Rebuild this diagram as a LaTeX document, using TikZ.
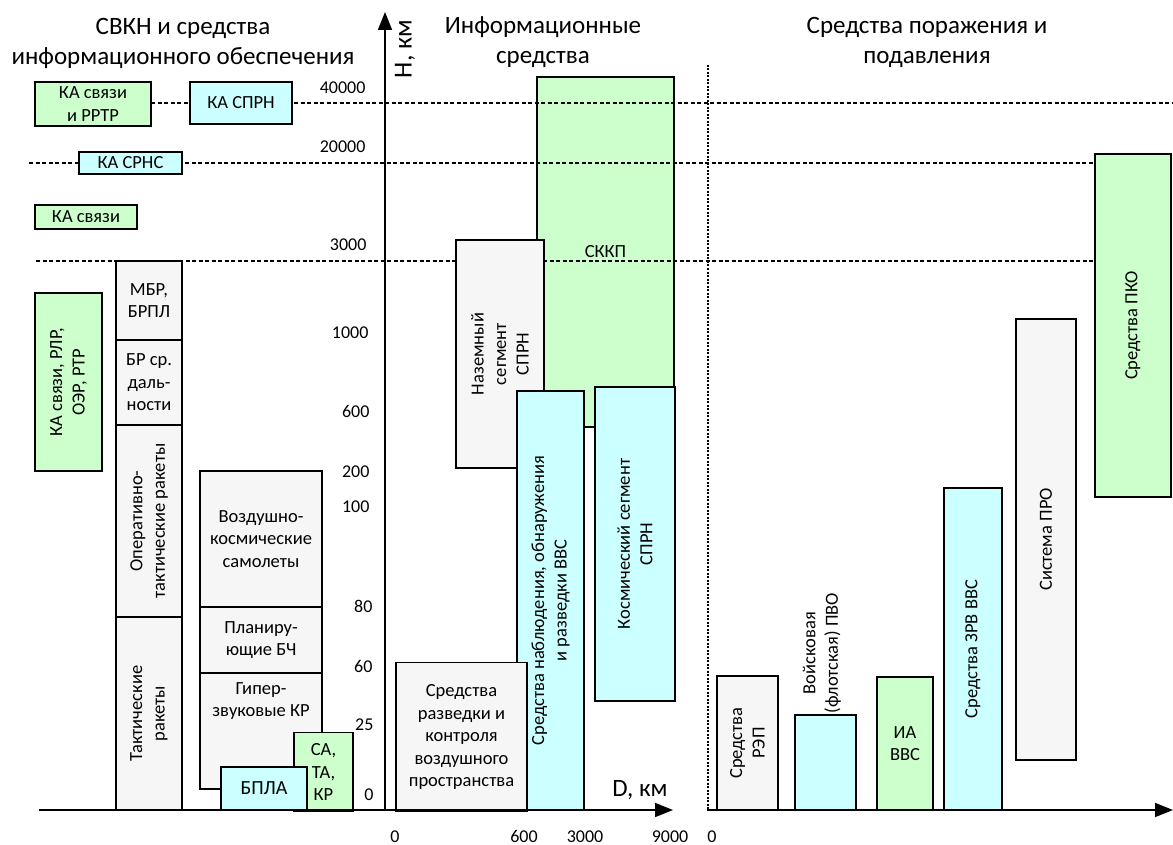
\documentclass[tikz,border=0pt]{standalone}
\usepackage{fontspec}
\setmainfont{Carlito}
\usetikzlibrary{arrows.meta}
\definecolor{cgreen}{RGB}{204,255,204}
\definecolor{ccyan}{RGB}{204,255,255}
\definecolor{cgray}{RGB}{245,246,245}
\begin{document}
\begin{tikzpicture}[x=1pt,y=-1pt,
 bx/.style={draw=black, line width=1.5pt, inner sep=0pt, align=center, font=\fontsize{18.5}{22.5}\selectfont},
 gbox/.style={bx, fill=cgreen},
 cbox/.style={bx, fill=ccyan},
 wbox/.style={bx, fill=cgray},
 sz/.style 2 args={minimum width=#1, minimum height=#2},
 txt/.style={align=center, font=\fontsize{18.5}{22.5}\selectfont},
 axis/.style={line width=1.6pt, -{Triangle[length=18pt,width=14pt]}},
 gridline/.style={line width=1.2pt, dash pattern=on 4pt off 2.5pt},
 sepline/.style={line width=1.5pt, dash pattern=on 2pt off 1.5pt},
 tick/.style={font=\fontsize{18}{20}\selectfont},
 xtick/.style={tick, anchor=base, inner sep=0pt},
 title/.style={align=center, font=\fontsize{25}{30}\selectfont}
]
\useasboundingbox (0,0) rectangle (1173,845);
% titles
\node[title] (t1) at (183,43) {СВКН и средства\\информационного обеспечения};
\node[title] (t2) at (543,42) {Информационные\\средства};
\node[title] (t3) at (927,42) {Средства поражения и\\подавления};
% SKKP under grid
\node[gbox, sz={137}{350}] (skkp) at (605.5,252) {СККП};
% grid lines
\coordinate (g1a) at (151,103); \coordinate (g1b) at (1173,103);
\coordinate (g2a) at (29,163);  \coordinate (g2b) at (1173,163);
\coordinate (g3a) at (36,261);  \coordinate (g3b) at (1173,261);
\coordinate (sa1) at (708,65);  \coordinate (sa2) at (708,810);
\draw[gridline] (g1a) -- (g1b);
\draw[gridline] (g2a) -- (g2b);
\draw[gridline] (g3a) -- (g3b);
\draw[sepline] (sa1) -- (sa2);
% left section
\node[gbox, sz={116}{44}] (kar) at (93,104) {КА связи\\и РРТР};
\node[cbox, sz={102}{42}] (kaspr) at (241,103) {КА СПРН};
\node[cbox, sz={103}{22}] (kasrns) at (130.5,163) {КА СРНС};
\node[gbox, sz={102}{24}] (kas) at (86,217) {КА связи};
\node[gbox, rotate=90, sz={178}{67}] (karlr) at (68.5,382) {КА связи, РЛР,\\ОЭР, РТР};
\node[wbox, sz={66}{79}] (mbr) at (149,300.5) {МБР,\\БРПЛ};
\node[wbox, sz={66}{85}] (brsd) at (149,382.5) {БР ср.\\даль-\\ности};
\node[wbox, rotate=90, sz={192}{66}] (otr) at (149,521) {Оперативно-\\тактические ракеты};
\node[wbox, rotate=90, sz={193}{66}] (tr) at (149,713.5) {Тактические\\ракеты};
\node[wbox, sz={122}{136}] (vks) at (261,539) {Воздушно-\\космические\\самолеты};
\node[wbox, sz={122}{66}] (pbch) at (261,640) {Планиру-\\ющие БЧ};
\node[wbox, sz={122}{116}] (gkr) at (261,731) {};
\node[txt] (gkrt) at (261,701) {Гипер-\\звуковые КР};
\node[gbox, sz={59}{79}] (sata) at (323.5,772) {СА,\\ТА,\\КР};
\node[cbox, sz={86}{43}, font=\fontsize{20}{22}\selectfont] (bpla) at (264,788.5) {БПЛА};
% information section
\node[wbox, rotate=90, sz={228}{88}] (nsspr) at (500,354) {Наземный\\сегмент\\СПРН};
\node[cbox, rotate=90, sz={419}{67}] (snor) at (550.5,600.5) {Средства наблюдения, обнаружения\\и разведки ВВС};
\node[cbox, rotate=90, sz={314}{80}] (ksspr) at (635,544) {Космический сегмент\\СПРН};
\node[wbox, sz={131}{149}] (srk) at (461.5,737) {Средства\\разведки и\\контроля\\воздушного\\пространства};
% right section
\node[wbox, rotate=90, sz={134}{61}] (rep) at (747.5,743) {Средства\\РЭП};
\node[cbox, sz={61}{95}] (pvo) at (825.5,762.5) {};
\node[txt, rotate=90] (pvot) at (822,653) {Войсковая\\(флотская) ПВО};
\node[gbox, sz={56}{133}] (ia) at (905,743.5) {ИА\\ВВС};
\node[cbox, rotate=90, sz={322}{58}] (zrv) at (973,649) {Средства ЗРВ ВВС};
\node[wbox, rotate=90, sz={441}{60}] (pro) at (1046,539.5) {Система ПРО};
\node[gbox, rotate=90, sz={343}{76}] (pko) at (1133,325.5) {Средства ПКО};
% axes
\coordinate (v0) at (385,810); \coordinate (v1) at (385,12);
\coordinate (h0) at (39,810);  \coordinate (h1) at (673,810);
\coordinate (k0) at (707,810); \coordinate (k1) at (1173,810);
\draw[axis] (v0) -- (v1);
\draw[axis] (h0) -- (h1);
\draw[axis] (k0) -- (k1);
\node[font=\fontsize{26}{28}\selectfont, rotate=90] (hkm) at (405,49) {Н, км};
\node[font=\fontsize{25}{28}\selectfont] (dkm) at (640,790) {D, км};
% tick labels vertical
\node[tick, anchor=east] (y40000) at (369,88) {40000};
\node[tick, anchor=east] (y20000) at (369,147) {20000};
\node[tick, anchor=east] (y3000) at (370,245) {3000};
\node[tick, anchor=east] (y1000) at (372,333) {1000};
\node[tick, anchor=east] (y600) at (373,411) {600};
\node[tick, anchor=east] (y200) at (373,472) {200};
\node[tick, anchor=east] (y100) at (373,507) {100};
\node[tick, anchor=east] (y80) at (376,606) {80};
\node[tick, anchor=east] (y60) at (376,666) {60};
\node[tick, anchor=east] (y25) at (377,725) {25};
\node[tick, anchor=east] (y0) at (377,795) {0};
% tick labels horizontal
\node[xtick] (x0) at (395,842) {0};
\node[xtick] (x600) at (524,842) {600};
\node[xtick] (x3000) at (585,842) {3000};
\node[xtick] (x9000) at (670,842) {9000};
\node[xtick] (x0b) at (712,842) {0};
\end{tikzpicture}
\end{document}
